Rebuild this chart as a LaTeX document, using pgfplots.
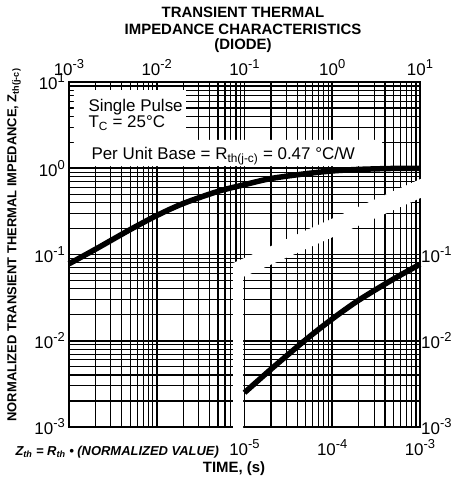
\documentclass[border=0pt]{standalone}
\usepackage{fontspec}
\setmainfont{Liberation Sans}
\usepackage{pgfplots}
\pgfplotsset{compat=1.18}

\newcommand{\dec}[1]{10\raisebox{0.42em}{\fontsize{13}{13}\selectfont#1}}

\begin{document}
\begin{tikzpicture}
\useasboundingbox (-69bp,-61bp) rectangle (386bp,427bp);

% upper time scale (1e-3 .. 1e1 s)
\begin{axis}[
    at={(0,0)}, anchor=south west,
    scale only axis, width=351bp, height=345bp,
    xmode=log, ymode=log,
    xmin=1e-3, xmax=1e1, ymin=1e-3, ymax=1e1,
    major tick length=0, minor tick length=0,
    tick label style={font=\fontsize{17}{17}\selectfont, inner sep=1bp},
    clip=false,
    xtick={1e-3,1e-2,1e-1,1e0,1e1},
    xticklabels={\dec{-3},\dec{-2},\dec{-1},\dec{0},\dec{1}},
    xticklabel pos=upper,
    xticklabel style={yshift=5bp},
    ytick={1e-3,1e-2,1e-1,1e0,1e1},
    yticklabels={\dec{-3},\dec{-2},\dec{-1},\dec{0},\raisebox{-4bp}{\dec{1}}},
    yticklabel pos=left,
    yticklabel style={xshift=-3bp},
    minor xtick={2e-3,3e-3,4e-3,5e-3,6e-3,7e-3,8e-3,9e-3,
      2e-2,3e-2,4e-2,5e-2,6e-2,7e-2,8e-2,9e-2,
      2e-1,3e-1,4e-1,5e-1,6e-1,7e-1,8e-1,9e-1,2,3,4,5,6,7,8,9},
    minor ytick={2e-3,3e-3,4e-3,5e-3,6e-3,7e-3,8e-3,9e-3,
      2e-2,3e-2,4e-2,5e-2,6e-2,7e-2,8e-2,9e-2,
      2e-1,3e-1,4e-1,5e-1,6e-1,7e-1,8e-1,9e-1,2,3,4,5,6,7,8,9},
    grid=both,
    major grid style={black, line width=1.6pt},
    minor grid style={black, line width=1.2pt},
    axis line style={black, line width=2pt},
  ]
  % gap between the two time scales
  \fill[white] (axis cs:0.0740,7.06e-4) -- (axis cs:0.0740,0.0796) -- (axis cs:11.4,0.792)
     -- (axis cs:11.4,0.476) -- (axis cs:0.0962,0.0548) -- (axis cs:0.0962,7.06e-4) -- cycle;
  % note box
  \fill[white] (axis cs:1.14e-3,8.07) -- (axis cs:0.0215,8.07) -- (axis cs:0.0215,2.13)
     -- (axis cs:3.69,2.13) -- (axis cs:3.69,1.06) -- (axis cs:1.14e-3,1.06) -- cycle;
  \addplot[black, line width=5.5bp, smooth] coordinates {
    (1e-3,0.078) (2e-3,0.115) (5e-3,0.195) (1e-2,0.283) (2e-2,0.39)
    (5e-2,0.54) (1e-1,0.645) (2e-1,0.76) (5e-1,0.865) (1,0.93)
    (2,0.97) (5,0.995) (10,1.0)
  };
\end{axis}

% lower time scale (1e-5 .. 1e-3 s)
\begin{axis}[
    at={(0,0)}, anchor=south west,
    scale only axis, width=351bp, height=345bp,
    xmode=log, ymode=log,
    xmin=1e-7, xmax=1e-3, ymin=1e-3, ymax=1e1,
    major tick length=0, minor tick length=0,
    tick label style={font=\fontsize{17}{17}\selectfont, inner sep=1bp},
    clip=false,
    axis line style={draw=none},
    xtick={1e-5,1e-4,1e-3},
    xticklabels={\dec{-5},\dec{-4},\dec{-3}},
    xticklabel pos=lower,
    xticklabel style={yshift=-11bp},
    ytick={1e-3,1e-2,1e-1},
    yticklabels={\dec{-3},\dec{-2},\dec{-1}},
    yticklabel pos=right,
  ]
  \addplot[black, line width=5.5bp, smooth] coordinates {
    (1e-5,0.0025) (2e-5,0.00467) (5e-5,0.0103) (1e-4,0.0179)
    (2e-4,0.0295) (5e-4,0.052) (1e-3,0.077)
  };
\end{axis}

\node[anchor=base west, font=\fontsize{17}{17}\selectfont] at (16bp,315bp) {Single Pulse};
\node[anchor=base west, font=\fontsize{17}{17}\selectfont] at (16bp,299bp) {T\textsubscript{C} = 25°C};
\node[anchor=base west, font=\fontsize{17}{17}\selectfont] at (19bp,267bp)
  {Per Unit Base = R\textsubscript{th(j-c)} = 0.47 °C/W};

\node[anchor=base, font=\bfseries\fontsize{15}{15}\selectfont] at (174bp,409bp) {TRANSIENT THERMAL};
\node[anchor=base, font=\bfseries\fontsize{15}{15}\selectfont] at (174bp,392bp) {IMPEDANCE CHARACTERISTICS};
\node[anchor=base, font=\bfseries\fontsize{15}{15}\selectfont] at (174bp,377bp) {(DIODE)};

\node[rotate=90, font=\bfseries\fontsize{13}{13}\selectfont] at (-55bp,182bp)
  {NORMALIZED TRANSIENT THERMAL IMPEDANCE, Z\textsubscript{th(j-c)}};
\node[anchor=base west, font=\bfseries\itshape\fontsize{13}{13}\selectfont] at (-57bp,-28bp)
  {Z\textsubscript{th} = R\textsubscript{th} • (NORMALIZED VALUE)};
\node[font=\bfseries\fontsize{15}{15}\selectfont] at (165bp,-42bp) {TIME, (s)};
\end{tikzpicture}
\end{document}
